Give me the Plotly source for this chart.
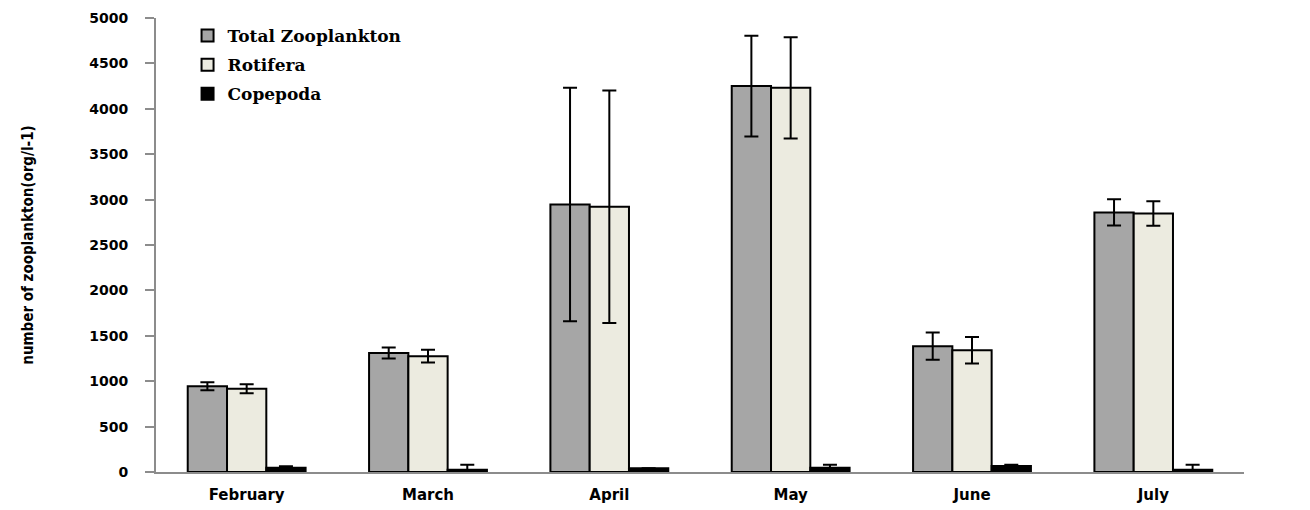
import plotly.graph_objects as go

months = ["February", "March", "April", "May", "June", "July"]
total = [944, 1310, 2946, 4250, 1386, 2859]
total_err = [45, 60, 1285, 555, 150, 145]
rotifera = [916, 1275, 2921, 4231, 1342, 2848]
rotifera_err = [50, 70, 1280, 558, 146, 135]
copepoda = [47, 25, 40, 47, 66, 25]
copepoda_err = [15, 55, 0, 33, 14, 55]

series = [
    ("Total Zooplankton", total, total_err, "#a6a6a6"),
    ("Rotifera", rotifera, rotifera_err, "#ecebe0"),
    ("Copepoda", copepoda, copepoda_err, "#000000"),
]

fig = go.Figure()
for i, (name, vals, errs, color) in enumerate(series):
    fig.add_trace(go.Bar(
        x=months, y=vals, name=name,
        legendgroup=f"g{i}",
        marker=dict(color=color, line=dict(color="#000000", width=2)),
        error_y=dict(type="data", array=errs, visible=True,
                     color="#000000", thickness=2, width=7),
    ))

fig.update_layout(
    width=1310, height=510,
    paper_bgcolor="white", plot_bgcolor="white",
    margin=dict(l=148, r=74, t=10, b=46),
    barmode="group", bargap=0.35, bargroupgap=0,
    showlegend=True,
    legend=dict(
        x=0.029, y=1.0, xanchor="left", yanchor="top",
        bgcolor="rgba(0,0,0,0)",
        font=dict(family="DejaVu Serif", size=17, color="black", weight="bold"),
        tracegroupgap=4,
    ),
    xaxis=dict(
        showline=True, linecolor="#8c8c8c", linewidth=2, automargin=False,
        ticks="", showgrid=False, ticklabelstandoff=8,
        tickfont=dict(family="DejaVu Sans", size=15, color="black", weight="bold"),
    ),
    yaxis=dict(
        range=[0, 5000], dtick=500, automargin=False,
        showline=True, linecolor="#8c8c8c", linewidth=2,
        ticks="outside", ticklen=9, tickcolor="#8c8c8c", tickwidth=2,
        ticklabelstandoff=14, ticklabeloverflow="allow",
        showgrid=False, zeroline=False,
        tickfont=dict(family="DejaVu Sans", size=14, color="black", weight="bold"),
        title=dict(text="number of zooplankton(org/l-1)", standoff=52,
                   font=dict(family="DejaVu Sans Condensed", size=15, color="black", weight="bold")),
    ),
)

fig.write_html("out.html")
